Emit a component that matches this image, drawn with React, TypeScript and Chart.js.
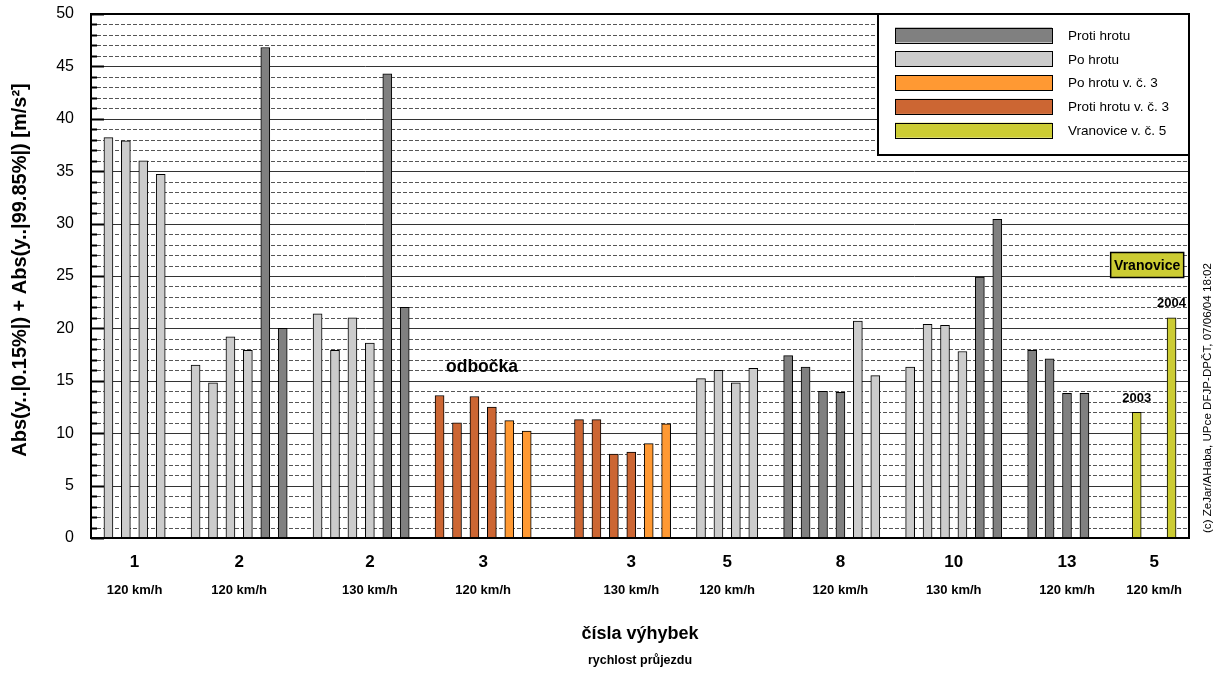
import React, { useEffect, useRef } from "react";
import { Chart, registerables } from "chart.js";
Chart.register(...registerables);

// ---- data ----
const groupNumbers = ["1", "2", "2", "3", "3", "5", "8", "10", "13", "5"];
const groupSpeeds = ["120 km/h", "120 km/h", "130 km/h", "120 km/h", "130 km/h", "120 km/h", "120 km/h", "130 km/h", "120 km/h", "120 km/h"];
const seriesNames = ["Proti hrotu", "Po hrotu", "Po hrotu v. č. 3", "Proti hrotu v. č. 3", "Vranovice v. č. 5"];
const seriesColors = ["#808080", "#cccccc", "#ff9933", "#cc6633", "#cccc33"];

const group1Values = [38.2, 37.9, 36.0, 34.7];
const group1Series = [1, 1, 1, 1];
const group2Values = [16.5, 14.8, 19.2, 17.9, 46.8, 20.0];
const group2Series = [1, 1, 1, 1, 0, 0];
const group3Values = [21.4, 17.9, 21.0, 18.6, 44.3, 22.0];
const group3Series = [1, 1, 1, 1, 0, 0];
const group4Values = [13.6, 11.0, 13.5, 12.5, 11.2, 10.2];
const group4Series = [3, 3, 3, 3, 2, 2];
const group5Values = [11.3, 11.3, 8.0, 8.2, 9.0, 10.9];
const group5Series = [3, 3, 3, 3, 2, 2];
const group6Values = [15.2, 16.0, 14.8, 16.2];
const group6Series = [1, 1, 1, 1];
const group7Values = [17.4, 16.3, 14.0, 13.9, 20.7, 15.5];
const group7Series = [0, 0, 0, 0, 1, 1];
const group8Values = [16.3, 20.4, 20.3, 17.8, 24.9, 30.4];
const group8Series = [1, 1, 1, 1, 0, 0];
const group9Values = [17.9, 17.1, 13.8, 13.8];
const group9Series = [0, 0, 0, 0];
const group10Values: (number | null)[] = [12.0, null, 21.0];
const group10Series = [4, 4, 4];
const group10Years = ["2003", "", "2004"];

const yTicksMajor = [0, 5, 10, 15, 20, 25, 30, 35, 40, 45, 50];
const yMinorStep = 1;

const yTitle = "Abs(y..|0.15%|) + Abs(y..|99.85%|) [m/s²]";
const xTitle = "čísla výhybek";
const xSubtitle = "rychlost průjezdu";
const branchNote = "odbočka";
const placeNote = "Vranovice";
const copyright = "(c) ZeJar/AHaba, UPce DFJP-DPČT, 07/06/04 18:02";

// ---- layout (not data) ----
const emptySlotsBefore = [0, 1, 1, 1, 2, 1, 1, 1, 1, 2];
const labelShift = [0, 0, 0.5, 0, 0.5, 0, 0.5, 0, 0.5, 0];

const FONT = "'Liberation Sans', Arial, Helvetica, sans-serif";

const allValues = [group1Values, group2Values, group3Values, group4Values, group5Values, group6Values, group7Values, group8Values, group9Values, group10Values];
const allSeries = [group1Series, group2Series, group3Series, group4Series, group5Series, group6Series, group7Series, group8Series, group9Series, group10Series];

function buildSlots() {
  let last = -1;
  const groups: { start: number; end: number }[] = [];
  const points: { x: number; y: number; s: number }[] = [];
  allValues.forEach((vals, g) => {
    const start = last + 1 + emptySlotsBefore[g];
    vals.forEach((v, i) => {
      if (v !== null) points.push({ x: start + i, y: v as number, s: allSeries[g][i] });
    });
    const end = start + vals.length - 1;
    groups.push({ start, end });
    last = end;
  });
  return { groups, points, maxSlot: last + 1 };
}

export default function App() {
  const ref = useRef<HTMLCanvasElement | null>(null);
  useEffect(() => {
    if (!ref.current) return;
    const { groups, points, maxSlot } = buildSlots();
    const datasets = seriesNames.map((name, s) => ({
      label: name,
      data: points.filter((p) => p.s === s).map((p) => ({ x: p.x, y: p.y })),
      backgroundColor: seriesColors[s],
      borderColor: "#000000",
      borderWidth: 1,
      barThickness: 9,
      grouped: false,
    }));

    const decor = {
      id: "decor",
      beforeDatasetsDraw(chart: any) {
        const { ctx, chartArea: a, scales } = chart;
        const y = scales.y;
        ctx.save();
        const yMin = yTicksMajor[0];
        const yMax = yTicksMajor[yTicksMajor.length - 1];
        for (let v = yMin + yMinorStep; v < yMax; v += yMinorStep) {
          if (yTicksMajor.includes(v)) continue;
          const py = Math.round(y.getPixelForValue(v)) + 0.5;
          ctx.strokeStyle = "#555555";
          ctx.lineWidth = 1;
          ctx.setLineDash([4, 2]);
          ctx.beginPath();
          ctx.moveTo(a.left, py);
          ctx.lineTo(a.right, py);
          ctx.stroke();
        }
        ctx.setLineDash([]);
        yTicksMajor.forEach((v) => {
          if (v === yMin || v === yMax) return;
          const py = Math.round(y.getPixelForValue(v)) + 0.5;
          ctx.strokeStyle = "#333333";
          ctx.lineWidth = 1;
          ctx.beginPath();
          ctx.moveTo(a.left, py);
          ctx.lineTo(a.right, py);
          ctx.stroke();
        });
        ctx.restore();
      },
      afterDatasetsDraw(chart: any) {
        const { ctx, chartArea: a, scales } = chart;
        const x = scales.x;
        const y = scales.y;
        ctx.save();
        const yMin = yTicksMajor[0];
        const yMax = yTicksMajor[yTicksMajor.length - 1];
        ctx.strokeStyle = "#000";
        ctx.lineWidth = 2;
        for (let v = yMin; v <= yMax; v += yMinorStep) {
          const py = Math.round(y.getPixelForValue(v)) + 0.5;
          const len = yTicksMajor.includes(v) ? 13 : 6;
          ctx.beginPath();
          ctx.moveTo(a.left, py);
          ctx.lineTo(a.left + len, py);
          ctx.stroke();
        }
        ctx.lineWidth = 2;
        ctx.strokeRect(a.left, a.top, a.right - a.left, a.bottom - a.top);

        // legend
        const lw = 311, lh = 141;
        const lx = a.right - lw, ly = a.top;
        ctx.fillStyle = "#fff";
        ctx.fillRect(lx, ly, lw, lh);
        ctx.lineWidth = 2;
        ctx.strokeStyle = "#000";
        ctx.strokeRect(lx, ly, lw, lh);
        ctx.font = `13.5px ${FONT}`;
        ctx.textBaseline = "middle";
        ctx.textAlign = "left";
        seriesNames.forEach((name, i) => {
          const cy = ly + 21 + i * 23.8;
          ctx.fillStyle = seriesColors[i];
          ctx.fillRect(lx + 17, cy - 7.5, 157, 15);
          ctx.lineWidth = 1;
          ctx.strokeStyle = "#000";
          ctx.strokeRect(lx + 17 + 0.5, Math.round(cy - 7.5) + 0.5, 157, 15);
          ctx.fillStyle = "#000";
          ctx.fillText(name, lx + 190, cy + 1);
        });

        // group labels
        groups.forEach((g, i) => {
          const cx = x.getPixelForValue((g.start + g.end) / 2 + labelShift[i]);
          ctx.fillStyle = "#000";
          ctx.textAlign = "center";
          ctx.textBaseline = "middle";
          ctx.font = `bold 17px ${FONT}`;
          ctx.fillText(groupNumbers[i], cx, a.bottom + 24);
          ctx.font = `bold 13px ${FONT}`;
          ctx.fillText(groupSpeeds[i], cx, a.bottom + 52);
        });
        const mid = (a.left + a.right) / 2;
        ctx.font = `bold 18px ${FONT}`;
        ctx.fillText(xTitle, mid, a.bottom + 96);
        ctx.font = `bold 12.5px ${FONT}`;
        ctx.fillText(xSubtitle, mid, a.bottom + 123);

        // y title
        ctx.save();
        ctx.translate(20, (a.top + a.bottom) / 2 - 6);
        ctx.rotate(-Math.PI / 2);
        ctx.font = `bold 20px ${FONT}`;
        ctx.fillText(yTitle, 0, 0);
        ctx.restore();

        // copyright
        ctx.save();
        ctx.translate(a.right + 19, 398);
        ctx.rotate(-Math.PI / 2);
        ctx.font = `11.6px ${FONT}`;
        ctx.fillText(copyright, 0, 0);
        ctx.restore();

        // notes
        ctx.font = `bold 17.5px ${FONT}`;
        ctx.textAlign = "left";
        const g4 = groups[3];
        ctx.fillText(branchNote, x.getPixelForValue(g4.start + 0.37), y.getPixelForValue(16.3));

        // year labels
        const g10 = groups[9];
        ctx.font = `bold 13px ${FONT}`;
        ctx.textAlign = "center";
        group10Values.forEach((v, i) => {
          if (v === null || !group10Years[i]) return;
          ctx.fillText(group10Years[i], x.getPixelForValue(g10.start + i), y.getPixelForValue(v) - 14);
        });

        // Vranovice box
        const bx = x.getPixelForValue(g10.start + 0.6);
        const by = y.getPixelForValue(26.05);
        ctx.fillStyle = seriesColors[4];
        ctx.fillRect(bx - 36.5, by - 12.5, 73, 25);
        ctx.lineWidth = 1.5;
        ctx.strokeStyle = "#000";
        ctx.strokeRect(bx - 36.5, by - 12.5, 73, 25);
        ctx.fillStyle = "#000";
        ctx.font = `bold 14px ${FONT}`;
        ctx.fillText(placeNote, bx, by + 1);
        ctx.restore();
      },
    };

    const chart = new Chart(ref.current, {
      type: "bar",
      data: { datasets: datasets as any },
      options: {
        responsive: false,
        animation: false,
        devicePixelRatio: 1,
        layout: { padding: { left: 0, right: 31, top: 14, bottom: 137 } },
        plugins: { legend: { display: false }, tooltip: { enabled: false } },
        scales: {
          x: { type: "linear", min: -1, max: maxSlot, offset: false, display: false, grid: { offset: false } },
          y: {
            min: yTicksMajor[0],
            max: yTicksMajor[yTicksMajor.length - 1],
            afterFit: (s: any) => { s.width = 91; s.paddingTop = 0; s.paddingBottom = 0; },
            afterBuildTicks: (s: any) => { s.ticks = yTicksMajor.map((v) => ({ value: v })); },
            ticks: { padding: 17, color: "#000", font: { family: FONT, size: 16 } },
            grid: { display: false, drawTicks: false },
            border: { display: false },
          },
        },
      },
      plugins: [decor],
    });
    return () => chart.destroy();
  }, []);
  return (
    <div style={{ position: "absolute", left: 0, top: 0, width: 1220, height: 675, background: "#fff" }}>
      <canvas ref={ref} width={1220} height={675} />
    </div>
  );
}
